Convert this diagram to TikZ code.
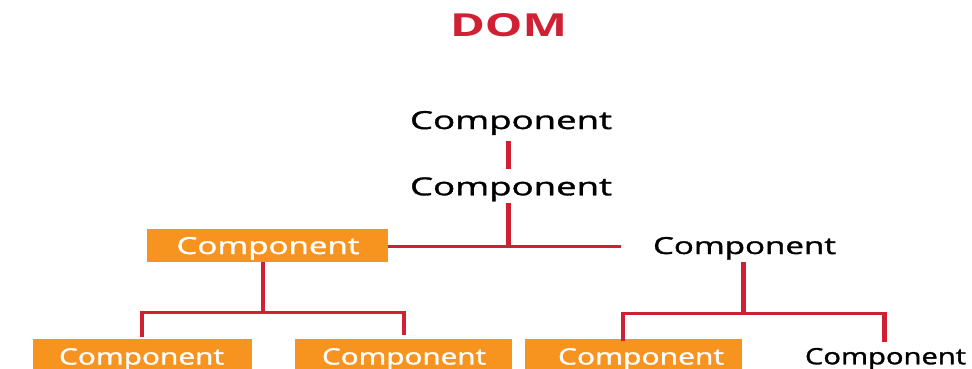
\documentclass[tikz,border=0pt]{standalone}
\usepackage{fontspec}
\setmainfont{Open Sans}
\newfontfamily\compfont[FakeBold=1.2]{Open Sans}
\usepackage{graphicx}
\definecolor{domred}{RGB}{208,32,52}
\definecolor{comporange}{RGB}{247,148,32}
% "Component" set to a given width and cap height (in pt)
\newcommand{\comptext}[2]{\resizebox{#1pt}{#2pt}{\compfont Com\smash{p}onent}}
\tikzset{
  lbl/.style={inner sep=0pt, outer sep=0pt, anchor=base west},
  obox/.style={fill=comporange, draw=none, inner sep=0pt, outer sep=0pt, anchor=north west},
  vline/.style={draw=domred, line width=4.4pt, line cap=butt},
  hline/.style={draw=domred, line width=2.8pt, line cap=butt},
}
\begin{document}
\begin{tikzpicture}[x=1pt, y=-1pt]
\useasboundingbox (0,0) rectangle (972,368);

% title
\node[lbl, text=domred] (title) at (450,36.5) {\resizebox{117pt}{23pt}{\bfseries DOM}};

% upper chain
\node[lbl] (c1) at (410,129) {\comptext{202}{18}};
\node[lbl] (c2) at (410,195.3) {\comptext{202}{18}};

% second level
\node[obox, minimum width=241pt, minimum height=32.7pt] (lbox) at (147,229) {};
\node[lbl, text=white] (l) at (176.5,254) {\comptext{183}{17}};
\node[lbl] (r) at (653,254) {\comptext{183}{17}};

% leaves
\node[obox, minimum width=219pt, minimum height=40pt] (b1) at (33,339.3) {};
\node[obox, minimum width=217pt, minimum height=40pt] (b2) at (295,339.3) {};
\node[obox, minimum width=217pt, minimum height=40pt] (b3) at (525,339.3) {};
\node[lbl, text=white] (l1) at (59,364.5) {\comptext{165}{16.3}};
\node[lbl, text=white] (l2) at (322,364.5) {\comptext{164}{16.3}};
\node[lbl, text=white] (r1) at (558,364.5) {\comptext{166}{16.3}};
\node[lbl] (r2) at (805,364.3) {\comptext{161}{16.3}};

% connector end points
\coordinate (a1) at (508.5,140.5);
\coordinate (a2) at (508.5,169);
\coordinate (a3) at (508.5,203.3);
\coordinate (j0) at (508.5,246.7);
\coordinate (h0r) at (621,246.7);
\coordinate (rtop) at (743.3,262);
\coordinate (jl) at (263,312.8);
\coordinate (jr) at (743.3,313.2);
\coordinate (hl1) at (140,312.8);
\coordinate (hl2) at (406.2,312.8);
\coordinate (hr1) at (620.5,313.2);
\coordinate (hr2) at (886.5,313.2);
\coordinate (r2top) at (884.3,341.5);
\coordinate (r1top) at (622.7,340.5);

% root chain
\draw[vline] (a1) -- (a2);
\draw[vline] (a3) -- (j0);
\draw[hline] (lbox.east |- j0) -- (h0r);

% left subtree
\draw[vline] (lbox.south -| jl) -- (jl);
\draw[hline] (hl1) -- (hl2);
\draw[vline] (hl1 -| 142,0) -- (142,336.5);
\draw[vline] (hl2 -| 404,0) -- (404,335);

% right subtree
\draw[vline] (rtop) -- (jr);
\draw[hline] (hr1) -- (hr2);
\draw[vline] (hr1 -| r1top) -- (r1top);
\draw[vline] (hr2 -| r2top) -- (r2top);
\end{tikzpicture}
\end{document}
